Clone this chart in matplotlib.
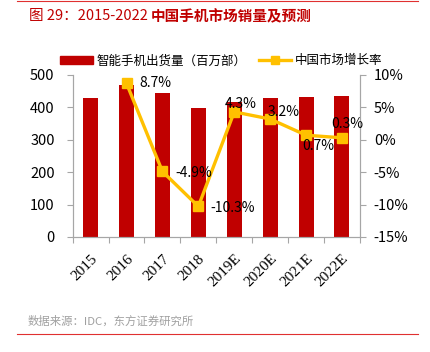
import matplotlib
matplotlib.use("Agg")
import matplotlib.pyplot as plt
from matplotlib.lines import Line2D
from matplotlib.patches import Patch

plt.rcParams['font.family'] = ['Noto Sans CJK SC', 'DejaVu Sans']

years = ['2015', '2016', '2017', '2018', '2019E', '2020E', '2021E', '2022E']
shipments = [430, 468, 444, 399, 416, 430, 433, 435]
growth_years = ['2016', '2017', '2018', '2019E', '2020E', '2021E', '2022E']
growth = [8.7, -4.9, -10.3, 4.3, 3.2, 0.7, 0.3]

red = '#C00000'
yellow = '#FFC000'
grey = '#A6A6A6'

fig = plt.figure(figsize=(4.3, 3.52), dpi=100)
ax = fig.add_axes([0.169, 0.327, 0.668, 0.46])
ax2 = ax.twinx()

x = list(range(len(years)))
ax.bar(x, shipments, width=0.42, color=red, zorder=2)
ax.set_xlim(-0.5, len(years) - 0.5)
ax.set_ylim(0, 500)
ax.set_yticks([0, 100, 200, 300, 400, 500])

gx = [years.index(y) for y in growth_years]
ax2.plot(gx, growth, color=yellow, lw=2.4, marker='s', ms=6.5, zorder=3)
ax2.set_ylim(-15, 10)
ax2.set_yticks([-15, -10, -5, 0, 5, 10])
ax2.set_yticklabels([f'{v}%' for v in [-15, -10, -5, 0, 5, 10]])

# data labels (offsets in points)
offs = {
    '2016': (9, 0, 'left', 'center'),
    '2017': (9, -1, 'left', 'center'),
    '2018': (9, -1, 'left', 'center'),
    '2019E': (5, 1, 'center', 'bottom'),
    '2020E': (-2, 0, 'left', 'bottom'),
    '2021E': (-3, -3, 'left', 'top'),
    '2022E': (-8, 5, 'left', 'bottom'),
}
for yr, xi, v in zip(growth_years, gx, growth):
    dx, dy, ha, va = offs[yr]
    ax2.annotate(f'{v}%', (xi, v), xytext=(dx, dy), textcoords='offset points',
                 ha=ha, va=va, fontsize=10, color='black', zorder=4,
                 family=['Noto Sans CJK SC', 'DejaVu Sans'])

for a in (ax, ax2):
    a.spines['top'].set_visible(False)
    for s in ('left', 'right', 'bottom'):
        a.spines[s].set_color(grey)
    a.tick_params(colors=grey, labelcolor='black', length=4)
ax.tick_params(axis='y', labelsize=10.5, pad=9)
ax2.tick_params(axis='y', labelsize=10.5, pad=6)

ax.set_xticks([i - 0.5 for i in range(len(years) + 1)], minor=False)
ax.set_xticklabels([])
ax.set_xticks(x, minor=True)
ax.set_xticklabels(years, minor=True, rotation=45, ha='right', va='top',
                   rotation_mode='anchor', family='Liberation Serif', fontsize=11)
ax.tick_params(axis='x', which='minor', length=0, pad=11)
ax.tick_params(axis='x', which='major', length=4)

handles = [Patch(color=red), Line2D([0], [0], color=yellow, lw=2.4, marker='s', ms=6)]
fig.legend(handles, ['智能手机出货量（百万部）', '中国市场增长率'], loc='center',
           bbox_to_anchor=(0.515, 0.827), ncol=2, frameon=False, fontsize=9,
           handlelength=2.6, handletextpad=0.3, columnspacing=1.0)

# title and source
fig.text(0.067, 0.955, '图 29：2015-2022', color=red, fontsize=10.5, va='center')
fig.text(0.351, 0.955, '中国手机市场销量及预测', color=red, fontsize=10.5,
         va='center', weight='bold')
fig.text(0.065, 0.089, '数据来源：IDC，东方证券研究所', color='#A0A0A0', fontsize=8.2,
         va='center')
fig.add_artist(Line2D([0.04, 0.972], [0.051, 0.051], color='#E03030', lw=0.8))
fig.add_artist(Line2D([0.04, 0.972], [0.998, 0.998], color='#E03030', lw=0.8))

fig.savefig('out.png', dpi=100)
